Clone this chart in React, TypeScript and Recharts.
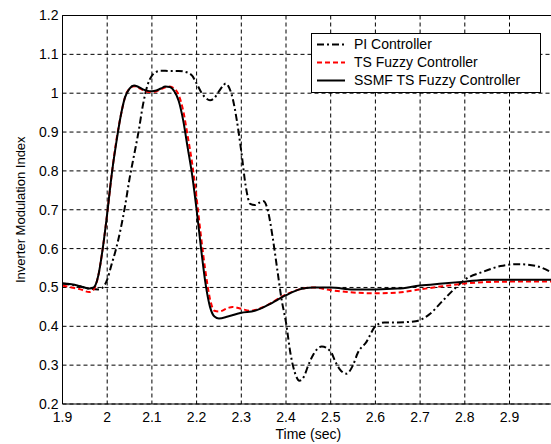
import React from 'react';
import { LineChart, Line, XAxis, YAxis, CartesianGrid, ReferenceLine, Legend, Label } from 'recharts';

const xTicks = [1.9, 2, 2.1, 2.2, 2.3, 2.4, 2.5, 2.6, 2.7, 2.8, 2.9];
const yTicks = [0.2, 0.3, 0.4, 0.5, 0.6, 0.7, 0.8, 0.9, 1, 1.1, 1.2];

const piSeries = [
  { t: 1.9, v: 0.51 }, { t: 1.93, v: 0.505 }, { t: 1.96, v: 0.497 }, { t: 1.98, v: 0.495 },
  { t: 1.99, v: 0.5 }, { t: 2.0, v: 0.52 }, { t: 2.01, v: 0.56 }, { t: 2.02, v: 0.6 },
  { t: 2.03, v: 0.65 }, { t: 2.04, v: 0.71 }, { t: 2.05, v: 0.78 }, { t: 2.06, v: 0.84 },
  { t: 2.07, v: 0.9 }, { t: 2.08, v: 0.97 }, { t: 2.09, v: 1.02 }, { t: 2.1, v: 1.045 },
  { t: 2.11, v: 1.055 }, { t: 2.12, v: 1.058 }, { t: 2.14, v: 1.057 }, { t: 2.16, v: 1.057 },
  { t: 2.18, v: 1.053 }, { t: 2.19, v: 1.045 }, { t: 2.2, v: 1.025 }, { t: 2.21, v: 1.003 },
  { t: 2.22, v: 0.988 }, { t: 2.23, v: 0.982 }, { t: 2.24, v: 0.988 }, { t: 2.25, v: 1.005 },
  { t: 2.26, v: 1.02 }, { t: 2.265, v: 1.025 }, { t: 2.27, v: 1.02 }, { t: 2.28, v: 0.99 },
  { t: 2.29, v: 0.93 }, { t: 2.3, v: 0.85 }, { t: 2.31, v: 0.76 }, { t: 2.32, v: 0.715 },
  { t: 2.33, v: 0.712 }, { t: 2.34, v: 0.718 }, { t: 2.35, v: 0.722 }, { t: 2.36, v: 0.695 },
  { t: 2.37, v: 0.63 }, { t: 2.38, v: 0.55 }, { t: 2.39, v: 0.47 }, { t: 2.4, v: 0.41 },
  { t: 2.41, v: 0.33 }, { t: 2.42, v: 0.28 }, { t: 2.43, v: 0.26 }, { t: 2.44, v: 0.27 },
  { t: 2.45, v: 0.3 }, { t: 2.46, v: 0.325 }, { t: 2.48, v: 0.348 }, { t: 2.5, v: 0.335 },
  { t: 2.51, v: 0.31 }, { t: 2.52, v: 0.29 }, { t: 2.535, v: 0.278 }, { t: 2.55, v: 0.3 },
  { t: 2.56, v: 0.33 }, { t: 2.58, v: 0.36 }, { t: 2.6, v: 0.4 }, { t: 2.62, v: 0.41 },
  { t: 2.65, v: 0.41 }, { t: 2.69, v: 0.413 }, { t: 2.72, v: 0.43 }, { t: 2.75, v: 0.465 },
  { t: 2.78, v: 0.5 }, { t: 2.8, v: 0.52 }, { t: 2.84, v: 0.54 }, { t: 2.88, v: 0.555 },
  { t: 2.92, v: 0.56 }, { t: 2.96, v: 0.555 }, { t: 3.0, v: 0.535 },
];

const tsSeries = [
  { t: 1.9, v: 0.505 }, { t: 1.92, v: 0.5 }, { t: 1.94, v: 0.495 }, { t: 1.96, v: 0.488 },
  { t: 1.97, v: 0.495 }, { t: 1.98, v: 0.53 }, { t: 1.99, v: 0.6 }, { t: 2.0, v: 0.69 },
  { t: 2.01, v: 0.79 }, { t: 2.02, v: 0.875 }, { t: 2.03, v: 0.94 }, { t: 2.04, v: 0.99 },
  { t: 2.05, v: 1.012 }, { t: 2.06, v: 1.018 }, { t: 2.07, v: 1.014 }, { t: 2.08, v: 1.008 },
  { t: 2.09, v: 1.004 }, { t: 2.1, v: 1.003 }, { t: 2.11, v: 1.005 }, { t: 2.12, v: 1.01 },
  { t: 2.13, v: 1.015 }, { t: 2.14, v: 1.017 }, { t: 2.15, v: 1.012 }, { t: 2.16, v: 0.995 },
  { t: 2.17, v: 0.955 }, { t: 2.18, v: 0.89 }, { t: 2.19, v: 0.82 }, { t: 2.2, v: 0.73 },
  { t: 2.21, v: 0.63 }, { t: 2.22, v: 0.54 }, { t: 2.23, v: 0.47 }, { t: 2.24, v: 0.44 },
  { t: 2.25, v: 0.438 }, { t: 2.27, v: 0.447 }, { t: 2.28, v: 0.45 }, { t: 2.3, v: 0.445 },
  { t: 2.32, v: 0.44 }, { t: 2.35, v: 0.45 }, { t: 2.4, v: 0.482 }, { t: 2.43, v: 0.495 },
  { t: 2.46, v: 0.5 }, { t: 2.5, v: 0.493 }, { t: 2.55, v: 0.487 }, { t: 2.6, v: 0.485 },
  { t: 2.65, v: 0.487 }, { t: 2.7, v: 0.495 }, { t: 2.75, v: 0.503 }, { t: 2.8, v: 0.51 },
  { t: 2.85, v: 0.514 }, { t: 2.9, v: 0.515 }, { t: 3.0, v: 0.515 },
];

const ssmfSeries = [
  { t: 1.9, v: 0.51 }, { t: 1.92, v: 0.508 }, { t: 1.94, v: 0.503 }, { t: 1.96, v: 0.497 },
  { t: 1.97, v: 0.5 }, { t: 1.98, v: 0.53 }, { t: 1.99, v: 0.6 }, { t: 2.0, v: 0.69 },
  { t: 2.01, v: 0.79 }, { t: 2.02, v: 0.87 }, { t: 2.03, v: 0.94 }, { t: 2.04, v: 0.99 },
  { t: 2.05, v: 1.012 }, { t: 2.06, v: 1.02 }, { t: 2.07, v: 1.016 }, { t: 2.08, v: 1.01 },
  { t: 2.09, v: 1.006 }, { t: 2.1, v: 1.005 }, { t: 2.11, v: 1.007 }, { t: 2.12, v: 1.012 },
  { t: 2.13, v: 1.017 }, { t: 2.14, v: 1.016 }, { t: 2.15, v: 1.005 }, { t: 2.16, v: 0.98 },
  { t: 2.17, v: 0.93 }, { t: 2.18, v: 0.86 }, { t: 2.19, v: 0.79 }, { t: 2.2, v: 0.7 },
  { t: 2.21, v: 0.6 }, { t: 2.22, v: 0.51 }, { t: 2.23, v: 0.45 }, { t: 2.24, v: 0.425 },
  { t: 2.25, v: 0.42 }, { t: 2.27, v: 0.425 }, { t: 2.3, v: 0.435 }, { t: 2.33, v: 0.44 },
  { t: 2.36, v: 0.455 }, { t: 2.4, v: 0.48 }, { t: 2.43, v: 0.495 }, { t: 2.46, v: 0.5 },
  { t: 2.5, v: 0.5 }, { t: 2.55, v: 0.495 }, { t: 2.6, v: 0.495 }, { t: 2.65, v: 0.497 },
  { t: 2.7, v: 0.505 }, { t: 2.75, v: 0.51 }, { t: 2.8, v: 0.515 }, { t: 2.85, v: 0.52 },
  { t: 2.9, v: 0.52 }, { t: 3.0, v: 0.52 },
];

const seriesNames = ['PI Controller', 'TS Fuzzy Controller', 'SSMF TS Fuzzy Controller'];

const FONT = '"Liberation Sans", Arial, Helvetica, sans-serif';

const legendItems = [
  { name: seriesNames[0], color: '#000', dash: '7 3 2 3' },
  { name: seriesNames[1], color: '#ff0000', dash: '5 3' },
  { name: seriesNames[2], color: '#000', dash: undefined as string | undefined },
];

const LegendBox = () => (
  <div
    style={{
      width: 228,
      height: 57,
      border: '1px solid #000',
      background: '#fff',
      fontFamily: FONT,
      fontSize: 14,
      color: '#000',
      boxSizing: 'content-box',
      paddingTop: 1,
    }}
  >
    {legendItems.map((it) => (
      <div key={it.name} style={{ height: 18, display: 'flex', alignItems: 'center' }}>
        <svg width={42} height={18} style={{ display: 'block' }}>
          <line x1={5} y1={9.5} x2={33} y2={9.5} stroke={it.color} strokeWidth={2} strokeDasharray={it.dash} />
        </svg>
        <span style={{ whiteSpace: 'nowrap' }}>{it.name}</span>
      </div>
    ))}
  </div>
);

export default function App() {
  return (
    <div style={{ position: 'fixed', left: 0, top: 0, width: 551, height: 444, overflow: 'hidden', background: '#fff' }}>
      <LineChart width={570} height={444} margin={{ top: 15.5, right: 15.8, left: 0, bottom: 0 }}>
        <CartesianGrid stroke="#000" strokeDasharray="4 3" strokeWidth={1} />
        <XAxis
          type="number"
          dataKey="t"
          domain={[1.9, 3.0]}
          ticks={xTicks}
          allowDataOverflow
          height={40}
          stroke="#000"
          tickLine={false}
          tickSize={6}
          tick={{ fill: '#000', fontSize: 14, fontFamily: FONT }}
          tickFormatter={(v: number) => String(v)}
        >
          <Label value="Time (sec)" position="insideBottom" offset={5} style={{ fill: '#000', fontSize: 14, fontFamily: FONT }} />
        </XAxis>
        <YAxis
          type="number"
          domain={[0.2, 1.2]}
          ticks={yTicks}
          allowDataOverflow
          width={62.5}
          stroke="#000"
          tickLine={false}
          tickSize={3}
          tickMargin={1}
          tick={{ fill: '#000', fontSize: 14, fontFamily: FONT }}
          tickFormatter={(v: number) => String(v)}
        >
          <Label
            value="Inverter Modulation Index"
            angle={-90}
            position="center"
            dx={-11}
            style={{ fill: '#000', fontSize: 13, fontFamily: FONT, textAnchor: 'middle' }}
          />
        </YAxis>
        <ReferenceLine y={1.2} stroke="#000" strokeWidth={1} />
        <Legend
          layout="vertical"
          align="center"
          verticalAlign="middle"
          content={() => <LegendBox />}
          wrapperStyle={{ position: 'absolute', left: 311, top: 33, width: 230, height: 59 }}
        />
        <Line
          data={piSeries}
          dataKey="v"
          name={seriesNames[0]}
          type="monotone"
          stroke="#000"
          strokeWidth={2}
          strokeDasharray="7 3 2 3"
          dot={false}
          isAnimationActive={false}
        />
        <Line
          data={tsSeries}
          dataKey="v"
          name={seriesNames[1]}
          type="monotone"
          stroke="#ff0000"
          strokeWidth={2}
          strokeDasharray="5 3"
          dot={false}
          isAnimationActive={false}
        />
        <Line
          data={ssmfSeries}
          dataKey="v"
          name={seriesNames[2]}
          type="monotone"
          stroke="#000"
          strokeWidth={2}
          dot={false}
          isAnimationActive={false}
        />
      </LineChart>
    </div>
  );
}
